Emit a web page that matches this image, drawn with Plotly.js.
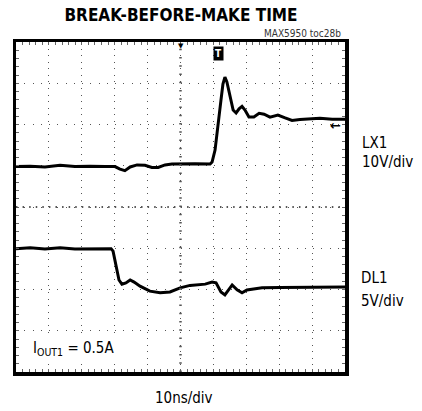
<!DOCTYPE html>
<html><head><meta charset="utf-8">
<script src="https://cdn.plot.ly/plotly-3.0.1.min.js"></script>
<style>html,body{margin:0;padding:0;background:#fff}</style>
</head><body>
<div id="chart" style="width:422px;height:411px"></div>
<script>
// time in ns (10 ns/div), trace positions in screen divisions (0 = bottom, 8 = top)
const lx1Time = [0,4.3,8.8,13.4,17.9,22.5,27.1,30.1,31.6,33.1,34.7,36.8,39.2,41.3,43.2,45.3,47.4,49.9,54.4,59.0,59.6,60.5,61.4,62.3,62.9,63.5,64.1,65.1,66.0,66.9,67.8,68.7,69.6,70.8,72.3,73.9,75.4,77.2,79.6,81.8,83.9,86.3,89.4,92.4,96.1,100];
const lx1Level = [4.98,4.99,4.97,5.01,4.98,4.99,4.98,4.98,4.92,4.88,4.97,5.02,5.01,4.96,4.96,5.02,5.04,5.05,5.05,5.04,5.09,5.38,5.92,6.59,6.98,7.15,7.03,6.64,6.35,6.28,6.38,6.44,6.35,6.18,6.18,6.27,6.25,6.18,6.23,6.16,6.10,6.12,6.13,6.15,6.13,6.13];
const dl1Time = [0,4.3,8.8,13.4,17.9,22.5,27.1,28.9,29.5,30.1,30.7,31.3,32.2,33.4,34.7,35.9,37.7,40.7,43.8,46.8,49.9,52.9,57.5,59.6,60.8,62.3,63.5,64.7,65.7,67.2,68.7,70.2,72.0,74.8,80.2,86.3,92.4,100];
const dl1Level = [2.99,3.01,2.98,3.01,2.98,2.99,2.99,2.99,2.93,2.72,2.47,2.23,2.13,2.16,2.23,2.18,2.08,1.96,1.92,1.94,2.04,2.10,2.13,2.18,2.16,1.94,1.87,1.99,2.11,1.99,1.92,1.99,2.01,2.04,2.05,2.05,2.06,2.06];

const FONT = 'DejaVu Sans Condensed, Liberation Sans Narrow, sans-serif';

const traces = [
  {x: lx1Time, y: lx1Level, mode: 'lines', line: {color: '#000', width: 3}, hoverinfo: 'skip'},
  {x: dl1Time, y: dl1Level, mode: 'lines', line: {color: '#000', width: 3}, hoverinfo: 'skip'}
];

const axisCommon = {
  showline: true, linewidth: 3.5, linecolor: '#000', mirror: 'allticks',
  ticks: 'inside', ticklen: 3, tickwidth: 1, tickcolor: '#666',
  showticklabels: false, zeroline: false, showgrid: true, gridcolor: '#555', gridwidth: 1,
  fixedrange: true
};

const layout = {
  width: 422, height: 411,
  margin: {l: 16, r: 77, t: 42, b: 39},
  paper_bgcolor: '#fff', plot_bgcolor: '#fff',
  showlegend: false,
  title: {text: '<b>BREAK-BEFORE-MAKE TIME</b>', font: {family: FONT, size: 17, color: '#000'},
          x: 181/422, xanchor: 'center', xref: 'container', y: 1 - 15/411, yanchor: 'middle', yref: 'container'},
  xaxis: Object.assign({}, axisCommon, {range: [0, 100], dtick: 10, tick0: 0, griddash: '1px,5.58px',
    minor: {dtick: 2, ticks: 'inside', ticklen: 3, tickcolor: '#666', showgrid: false}}),
  yaxis: Object.assign({}, axisCommon, {range: [0, 8], dtick: 1, tick0: 0, griddash: '1px,7.25px',
    minor: {dtick: 0.2, ticks: 'inside', ticklen: 3, tickcolor: '#666', showgrid: false}}),
  shapes: [
    {type: 'line', xref: 'x', yref: 'y', x0: 50, x1: 50, y0: 0, y1: 8, line: {color: '#555', width: 2.5, dash: '1.5px,6.75px'}},
    {type: 'line', xref: 'x', yref: 'y', x0: 0, x1: 100, y0: 4, y1: 4, line: {color: '#555', width: 2, dash: '1.5px,5.08px'}}
  ],
  annotations: [
    {text: 'MAX5950 toc28b', xref: 'paper', yref: 'paper', x: 0.994, y: 1.027, xanchor: 'right', yanchor: 'middle', showarrow: false, font: {family: FONT, size: 10, color: '#333'}},
    {text: 'LX1', xref: 'paper', yref: 'y', x: 1.046, y: 5.55, xanchor: 'left', yanchor: 'middle', showarrow: false, font: {family: FONT, size: 15, color: '#000'}},
    {text: '10V/div', xref: 'paper', yref: 'y', x: 1.046, y: 5.09, xanchor: 'left', yanchor: 'middle', showarrow: false, font: {family: FONT, size: 15, color: '#000'}},
    {text: 'DL1', xref: 'paper', yref: 'y', x: 1.043, y: 2.27, xanchor: 'left', yanchor: 'middle', showarrow: false, font: {family: FONT, size: 15, color: '#000'}},
    {text: '5V/div', xref: 'paper', yref: 'y', x: 1.043, y: 1.72, xanchor: 'left', yanchor: 'middle', showarrow: false, font: {family: FONT, size: 15, color: '#000'}},
    {text: '10ns/div', xref: 'paper', yref: 'paper', x: 0.511, y: -0.079, xanchor: 'center', yanchor: 'middle', showarrow: false, font: {family: FONT, size: 15, color: '#000'}},
    {text: 'I<sub>OUT1</sub> = 0.5A', xref: 'paper', yref: 'y', x: 0.046, y: 0.58, xanchor: 'left', yanchor: 'middle', showarrow: false, bgcolor: '#fff', font: {family: FONT, size: 15, color: '#000'}},
    {text: '<b>T</b>', xref: 'x', yref: 'paper', x: 61.4, y: 0.965, xanchor: 'center', yanchor: 'middle', showarrow: false, bgcolor: '#000', borderpad: 1, font: {family: FONT, size: 10, color: '#fff'}},
    {text: '▼', xref: 'x', yref: 'paper', x: 50, y: 0.988, xanchor: 'center', yanchor: 'middle', showarrow: false, font: {family: 'DejaVu Sans', size: 7, color: '#000'}},
    {text: '<b>←</b>', xref: 'paper', yref: 'paper', x: 0.995, y: (372-126)/330, xanchor: 'right', yanchor: 'middle', showarrow: false, font: {family: 'DejaVu Sans', size: 13, color: '#000'}}
  ]
};

Plotly.newPlot('chart', traces, layout, {staticPlot: true, displayModeBar: false});
</script>
</body></html>
